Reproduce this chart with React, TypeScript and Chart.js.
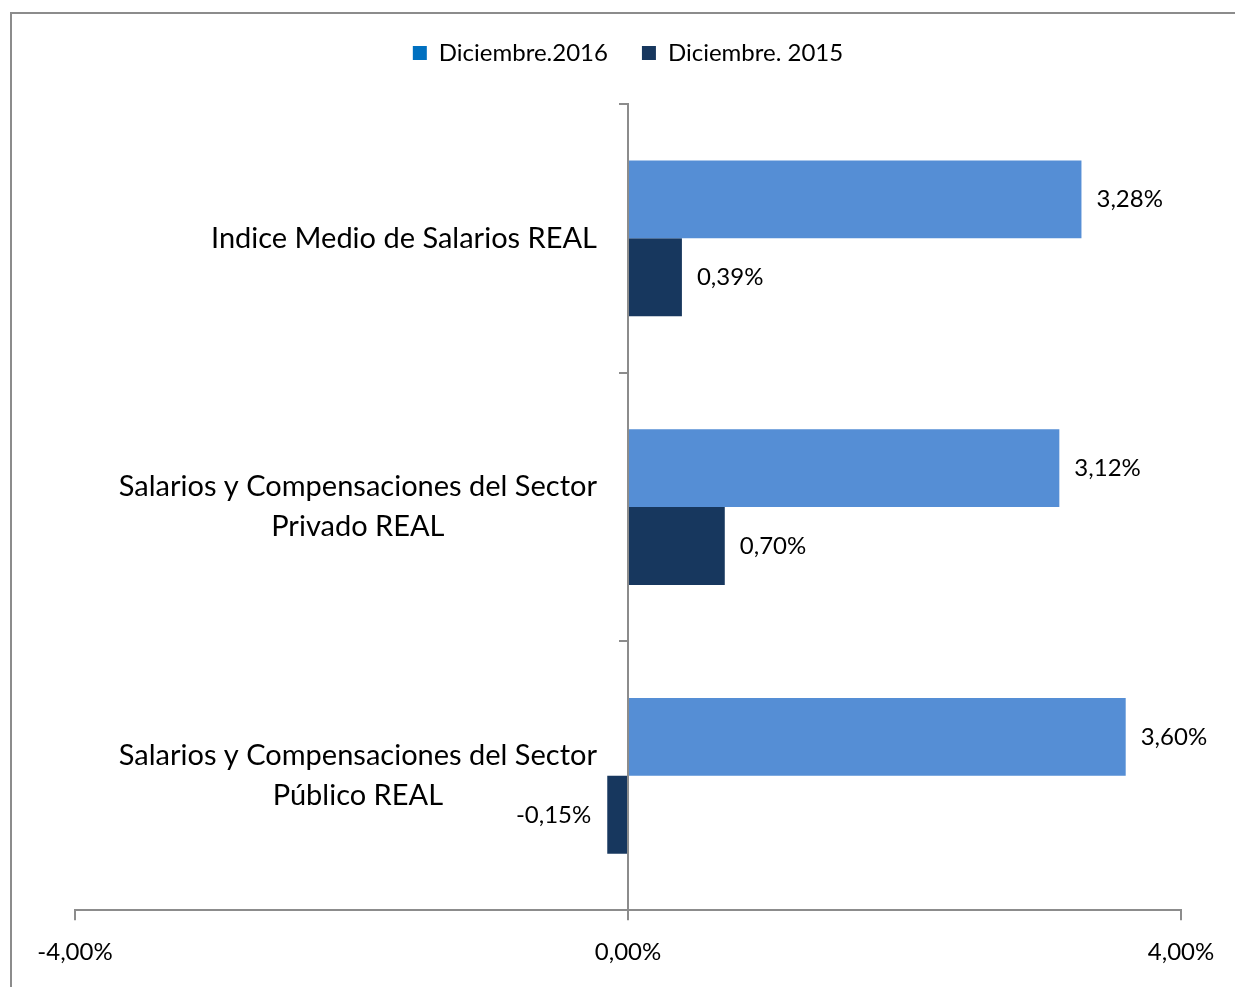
import React, { useEffect, useRef } from "react";
import { Chart, registerables } from "chart.js";

Chart.register(...registerables);

const categories: string[][] = [
  ["Indice Medio de Salarios REAL"],
  ["Salarios y Compensaciones del Sector", "Privado REAL"],
  ["Salarios y Compensaciones del Sector", "Público REAL"],
];
const seriesNames = ["Diciembre.2016", "Diciembre. 2015"];
const values2016 = [3.28, 3.12, 3.6];
const values2015 = [0.39, 0.7, -0.15];
const xTickValues = [-4, 0, 4];

const barColors = ["#558ED5", "#17375E"];
const legendColors = ["#0070C0", "#17375E"];
const axisColor = "#8c8c8c";
const FONT = "Lato";

const fmt = (v: number) => v.toFixed(2).replace(".", ",") + "%";

const framePlugin = {
  id: "frame",
  beforeDraw(chart: any) {
    const ctx = chart.ctx;
    ctx.save();
    ctx.strokeStyle = axisColor;
    ctx.lineWidth = 2;
    ctx.strokeRect(11, 13, 3000, 3000);
    ctx.restore();
  },
};

const legendGapPlugin = {
  id: "legendGap",
  beforeInit(chart: any) {
    const legend = chart.legend;
    if (!legend) return;
    const origFit = legend.fit;
    legend.fit = function () {
      origFit.call(this);
      this.height += 29;
    };
  },
};

const categoryLabelPlugin = {
  id: "categoryLabels",
  afterDraw(chart: any) {
    const ctx = chart.ctx;
    const yScale = chart.scales.y;
    const xScale = chart.scales.x;
    const right = xScale.getPixelForValue(0) - 31;
    const lineH = 40;
    ctx.save();
    ctx.font = `29px ${FONT}`;
    ctx.fillStyle = "#000";
    ctx.textBaseline = "middle";
    ctx.textAlign = "center";
    (chart.data.labels as string[][]).forEach((lines, i) => {
      const cy = yScale.getPixelForValue(i);
      const w = Math.max(...lines.map((l) => ctx.measureText(l).width));
      const cx = right - w / 2;
      const y0 = cy - ((lines.length - 1) * lineH) / 2;
      lines.forEach((l, j) => ctx.fillText(l, cx, y0 + j * lineH));
    });
    ctx.restore();
  },
};

const valueLabelPlugin = {
  id: "valueLabels",
  afterDatasetsDraw(chart: any) {
    const ctx = chart.ctx;
    ctx.save();
    ctx.font = `24px ${FONT}`;
    ctx.fillStyle = "#000";
    ctx.textBaseline = "middle";
    chart.data.datasets.forEach((ds: any, di: number) => {
      const meta = chart.getDatasetMeta(di);
      meta.data.forEach((el: any, i: number) => {
        const v = ds.data[i] as number;
        if (v >= 0) {
          ctx.textAlign = "left";
          ctx.fillText(fmt(v), el.x + 15, el.y);
        } else {
          ctx.textAlign = "right";
          ctx.fillText(fmt(v), el.x - 16, el.y);
        }
      });
    });
    ctx.restore();
  },
};

export default function App() {
  const ref = useRef<HTMLCanvasElement | null>(null);

  useEffect(() => {
    if (!ref.current) return;
    Chart.defaults.font.family = FONT;
    Chart.defaults.color = "#000";
    const chart = new Chart(ref.current, {
      type: "bar",
      data: {
        labels: categories as any,
        datasets: [
          {
            label: seriesNames[0],
            data: values2016,
            backgroundColor: barColors[0],
            borderWidth: 0,
            categoryPercentage: 0.58,
            barPercentage: 1,
          },
          {
            label: seriesNames[1],
            data: values2015,
            backgroundColor: barColors[1],
            borderWidth: 0,
            categoryPercentage: 0.58,
            barPercentage: 1,
          },
        ],
      },
      options: {
        indexAxis: "y",
        animation: false,
        responsive: false,
        devicePixelRatio: 1,
        layout: { padding: { left: 75, right: 54, top: 7, bottom: 2 } },
        plugins: {
          tooltip: { enabled: false },
          legend: {
            position: "top",
            labels: {
              font: { size: 24, family: FONT },
              color: "#000",
              boxWidth: 14,
              boxHeight: 14,
              padding: 34,
              generateLabels: (c: any) => {
                const items = Chart.defaults.plugins.legend.labels.generateLabels(c);
                return items.map((it: any, i: number) => ({
                  ...it,
                  fillStyle: legendColors[i],
                  strokeStyle: legendColors[i],
                  lineWidth: 0,
                }));
              },
            },
          },
        },
        scales: {
          x: {
            type: "linear",
            position: "bottom",
            min: xTickValues[0],
            max: xTickValues[xTickValues.length - 1],
            afterBuildTicks: (s: any) => {
              s.ticks = xTickValues.map((v) => ({ value: v }));
            },
            ticks: {
              callback: (v: any) => fmt(Number(v)),
              font: { size: 24, family: FONT },
              color: "#000",
              padding: 18,
              maxRotation: 0,
            },
            grid: {
              drawOnChartArea: false,
              drawTicks: true,
              tickLength: 10,
              color: axisColor,
              lineWidth: 2,
            },
            border: { display: true, color: axisColor, width: 2 },
          },
          y: {
            type: "category",
            position: { x: 0 } as any,
            ticks: { display: false },
            grid: {
              offset: true,
              drawOnChartArea: false,
              drawTicks: true,
              tickLength: 8,
              color: axisColor,
              lineWidth: 2,
            },
            border: { display: true, color: axisColor, width: 2 },
          },
        },
      } as any,
      plugins: [framePlugin, legendGapPlugin, categoryLabelPlugin, valueLabelPlugin],
    });
    return () => chart.destroy();
  }, []);

  return (
    <div style={{ position: "absolute", left: 0, top: 0, width: 1235, height: 987, background: "#fff" }}>
      <canvas ref={ref} width={1235} height={987} style={{ display: "block" }} />
    </div>
  );
}
